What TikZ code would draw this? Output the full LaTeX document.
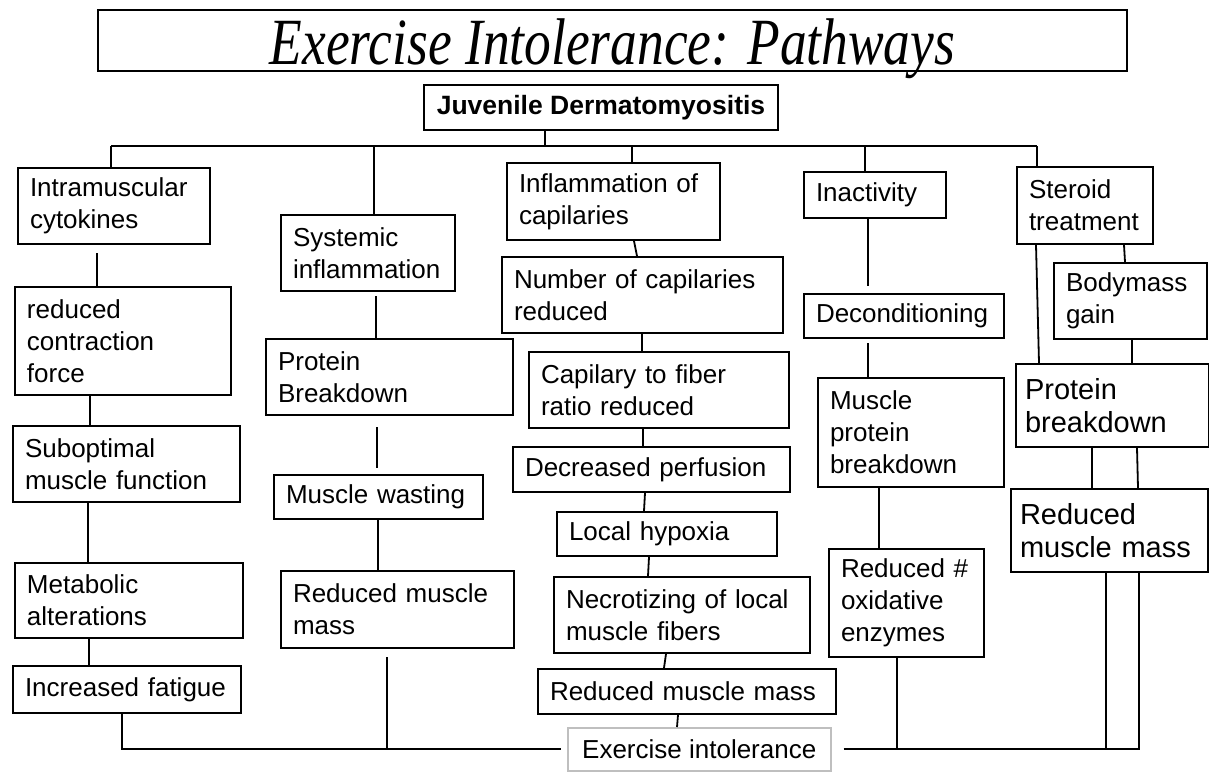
\documentclass[tikz,border=0pt]{standalone}
\usepackage{fontspec}
\setmainfont{Liberation Sans}
\newfontfamily\titlefont[FakeStretch=0.81]{Liberation Serif}

\begin{document}
\begin{tikzpicture}[x=1pt, y=-1pt, line width=1.8pt,
    box/.code 2 args={\pgfmathsetmacro\boxtw{#1-24}%
        \tikzset{draw, line width=2pt, anchor=north west, align=left,
            inner xsep=12pt, inner ysep=0pt, minimum width=#1pt,
            minimum height=#2pt, text width=\boxtw pt,
            font=\fontsize{26}{32}\selectfont}},
    big/.style={font=\fontsize{29}{33}\selectfont, inner xsep=9pt},
    ]
                        \useasboundingbox (0,0) rectangle (1209,771);

                        \node [draw, line width=2pt, anchor=north west, minimum width=1029pt, minimum height=61pt, inner sep=0pt, text height=54pt, text depth=7pt, font=\titlefont\itshape\fontsize{66}{66}\selectfont](title) at (97,9){Exercise Intolerance: Pathways};
                        \node [draw, line width=2pt, anchor=north west, minimum width=354pt, minimum height=45pt, inner sep=0pt, font=\bfseries\fontsize{26.5}{30}\selectfont](jdm) at (423,84){Juvenile Dermatomyositis};

                        \node [box={192}{76}](ic) at (17,167){Intramuscular\\cytokines};
                        \node [box={216}{108}](rcf) at (14,286){reduced\\contraction\\force};
                        \node [box={227}{76}](smf) at (12,425){Suboptimal\\muscle function};
                        \node [box={228}{75}](ma) at (14,562){Metabolic\\alterations};
                        \node [box={228}{47}](if) at (12,665){Increased fatigue};

                        \node [box={174}{76}](si) at (280,214){Systemic\\inflammation};
                        \node [box={247}{76}](pb) at (265,338){Protein\\Breakdown};
                        \node [box={209}{44}](mw) at (273,474){Muscle wasting};
                        \node [box={233}{77}](rmm) at (280,570){Reduced muscle\\mass};

                        \node [box={213}{77}](icap) at (506,162){Inflammation of\\capilaries};
                        \node [box={281}{76}](ncr) at (501,256){Number of capilaries\\reduced};
                        \node [box={260}{76}](cfr) at (528,351){Capilary to fiber\\ratio reduced};
                        \node [box={277}{45}](dp) at (512,446){Decreased perfusion};
                        \node [box={220}{44}](lh) at (556,511){Local hypoxia};
                        \node [box={256}{76}](nlm) at (553,576){Necrotizing of local\\muscle fibers};
                        \node [box={298}{45}](rmm3) at (537,668){Reduced muscle mass};

                        \node [box={142}{46}](ina) at (803,171){Inactivity};
                        \node [box={200}{44}](dec) at (803,293){Deconditioning};
                        \node [box={186}{109}](mpb) at (817,377){Muscle\\protein\\breakdown};
                        \node [box={155}{108}](roe) at (828,548){Reduced \#\\oxidative\\enzymes};

                        \node [box={136}{77}](st) at (1016,166){Steroid\\treatment};
                        \node [box={153}{76}](bg) at (1053,262){Bodymass\\gain};
                        \node [box={193}{83}, big, text width=175pt](pbd) at (1015,363){Protein\\breakdown};
                        \node [box={197}{83}, big, text width=179pt](rm5) at (1010,488){Reduced\\muscle mass};

                        \node [draw=black!25, line width=1.5pt, anchor=north west, minimum width=263pt, minimum height=43pt, inner sep=0pt, font=\fontsize{26}{32}\selectfont](ei) at (567,727){Exercise intolerance};

                        \coordinate (b0) at (545,146);
                        \coordinate (busL) at (111,146);
                        \coordinate (b2) at (374,146);
                        \coordinate (b3) at (632,146);
                        \coordinate (b4) at (865,146);
                        \coordinate (busR) at (1037,146);

                        \draw (jdm.south -| b0) -- (b0);
                        \draw (busL) -- (busR);
                        \draw (busL) -- (busL |- ic.north);
                        \draw (b2) -- (b2 |- si.north);
                        \draw (b3) -- (b3 |- icap.north);
                        \draw (b4) -- (b4 |- ina.north);
                        \draw (busR) -- (busR |- st.north);

                        \draw[shorten <=8pt] (ic.south -| 97,0) -- (rcf.north -| 97,0);
                        \draw (rcf.south -| 90,0) -- (smf.north -| 90,0);
                        \draw (smf.south -| 88,0) -- (ma.north -| 88,0);
                        \draw (ma.south -| 89,0) -- (if.north -| 89,0);
                        \draw[shorten >=6pt] (if.south -| 122,0) |- (ei.west);

                        \draw[shorten <=4pt] (si.south -| 376,0) -- (pb.north -| 376,0);
                        \draw[shorten <=11pt, shorten >=6pt] (pb.south -| 377,0) -- (mw.north -| 377,0);
                        \draw (mw.south -| 378,0) -- (rmm.north -| 378,0);
                        \draw[shorten <=8pt] (rmm.south -| 387,0) -- (ei.west -| 387,0);

                        \draw (icap.south -| 634,0) -- (ncr.north -| 637,0);
                        \draw (ncr.south -| 642,0) -- (cfr.north -| 642,0);
                        \draw (cfr.south -| 643,0) -- (dp.north -| 643,0);
                        \draw (dp.south -| 645,0) -- (lh.north -| 644,0);
                        \draw (lh.south -| 649,0) -- (nlm.north -| 648,0);
                        \draw (nlm.south -| 666,0) -- (rmm3.north -| 664,0);
                        \draw (rmm3.south -| 678,0) -- (ei.north -| 677,0);

                        \draw[shorten >=7pt] (ina.south -| 868,0) -- (dec.north -| 868,0);
                        \draw[shorten <=4pt] (dec.south -| 868,0) -- (mpb.north -| 868,0);
                        \draw (mpb.south -| 879,0) -- (roe.north -| 879,0);
                        \draw (roe.south -| 897,0) -- (ei.east -| 897,0);

                        \draw (st.south -| 1036,0) -- (pbd.north -| 1039,0);
                        \draw (st.south -| 1124,0) -- (bg.north -| 1125,0);
                        \draw (bg.south -| 1132,0) -- (pbd.north -| 1132,0);
                        \draw (pbd.south -| 1092,0) -- (rm5.north -| 1092,0);
                        \draw (pbd.south -| 1137,0) -- (rm5.north -| 1138,0);
                        \draw (rm5.south -| 1106,0) |- (ei.east -| 1139,0) -- (rm5.south -| 1139,0);
                        \draw[shorten <=12pt] (ei.east) -- (ei.east -| 1106,0);
\end{tikzpicture}
\end{document}
